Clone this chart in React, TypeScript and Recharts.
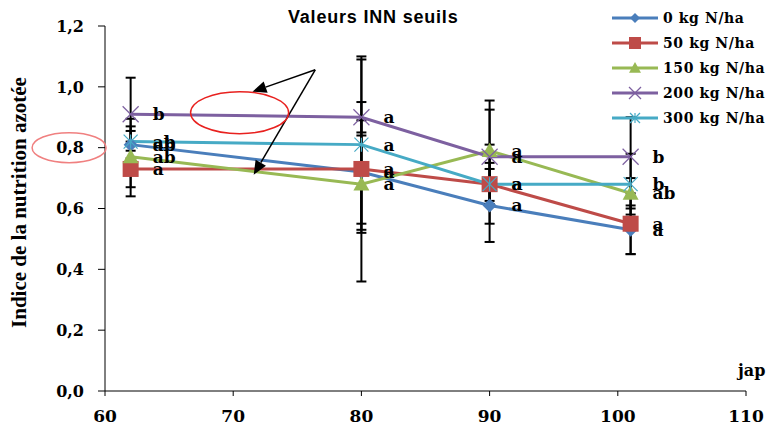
import React from "react";
import {
  ComposedChart,
  Line,
  XAxis,
  YAxis,
  ErrorBar,
  LabelList,
  ReferenceDot,
  ReferenceLine,
} from "recharts";

document.body.style.margin = "0";

const jap = [62, 80, 90, 101];
const inn0 = [0.81, 0.72, 0.61, 0.53];
const inn50 = [0.73, 0.73, 0.68, 0.55];
const inn150 = [0.77, 0.68, 0.79, 0.65];
const inn200 = [0.91, 0.9, 0.77, 0.77];
const inn300 = [0.82, 0.81, 0.68, 0.68];
const err0 = [0.045, 0.17, 0.12, 0.08];
const err50 = [0.09, 0.37, 0.13, 0.1];
const err150 = [0.1, 0.16, 0.165, 0.05];
const err200 = [0.12, 0.05, 0.155, 0.13];
const err300 = [0.075, 0.28, 0.07, 0.1];
const lbl0 = ["ab", "a", "a", "a"];
const lbl50 = ["a", "a", "a", "a"];
const lbl150 = ["ab", "a", "a", "ab"];
const lbl200 = ["b", "a", "a", "b"];
const lbl300 = ["ab", "a", "a", "b"];
const xTicks = [60, 70, 80, 90, 100, 110];
const yTicks = [0, 0.2, 0.4, 0.6, 0.8, 1.0, 1.2];

const data = jap.map((x, i) => ({
  x,
  s0: inn0[i], e0: err0[i], l0: lbl0[i],
  s50: inn50[i], e50: err50[i], l50: lbl50[i],
  s150: inn150[i], e150: err150[i], l150: lbl150[i],
  s200: inn200[i], e200: err200[i], l200: lbl200[i],
  s300: inn300[i], e300: err300[i], l300: lbl300[i],
}));

const serif = "'DejaVu Serif', serif";

type Kind = "diamond" | "square" | "triangle" | "x" | "star";

function Marker({ kind, cx, cy, color, s }: { kind: Kind; cx: number; cy: number; color: string; s: number }) {
  if (kind === "diamond")
    return <polygon points={`${cx},${cy - s} ${cx + s},${cy} ${cx},${cy + s} ${cx - s},${cy}`} fill={color} />;
  if (kind === "square") return <rect x={cx - s} y={cy - s} width={2 * s} height={2 * s} fill={color} />;
  if (kind === "triangle")
    return <polygon points={`${cx},${cy - s} ${cx + s},${cy + s * 0.8} ${cx - s},${cy + s * 0.8}`} fill={color} />;
  if (kind === "x")
    return (
      <g stroke={color} strokeWidth={1.2}>
        <line x1={cx - s} y1={cy - s} x2={cx + s} y2={cy + s} />
        <line x1={cx - s} y1={cy + s} x2={cx + s} y2={cy - s} />
      </g>
    );
  return (
    <g stroke={color} strokeWidth={1.2}>
      <line x1={cx - s} y1={cy - s} x2={cx + s} y2={cy + s} />
      <line x1={cx - s} y1={cy + s} x2={cx + s} y2={cy - s} />
      <line x1={cx} y1={cy - s} x2={cx} y2={cy + s} />
    </g>
  );
}

const series = [
  { key: "s0", err: "e0", lbl: "l0", name: "0 kg N/ha", color: "#4A7EBB", kind: "diamond" as Kind, size: 7 },
  { key: "s50", err: "e50", lbl: "l50", name: "50 kg N/ha", color: "#BE4B48", kind: "square" as Kind, size: 8 },
  { key: "s150", err: "e150", lbl: "l150", name: "150 kg N/ha", color: "#98B954", kind: "triangle" as Kind, size: 8 },
  { key: "s200", err: "e200", lbl: "l200", name: "200 kg N/ha", color: "#7D60A0", kind: "x" as Kind, size: 8 },
  { key: "s300", err: "e300", lbl: "l300", name: "300 kg N/ha", color: "#46AAC5", kind: "star" as Kind, size: 7 },
];

const letterLabel = (props: any) => {
  const { x, y, value } = props;
  return (
    <text x={x + 22} y={y + 6} fontFamily={serif} fontWeight="bold" fontSize={17} fill="#000">
      {value}
    </text>
  );
};

const Arrow = (props: any) => {
  const { x1, y1, x2, y2 } = props;
  const a = Math.atan2(y2 - y1, x2 - x1);
  const L = 14;
  const W = 6;
  const bx = x2 - L * Math.cos(a);
  const by = y2 - L * Math.sin(a);
  const px = -Math.sin(a) * W;
  const py = Math.cos(a) * W;
  return (
    <g>
      <line x1={x1} y1={y1} x2={bx} y2={by} stroke="#000" strokeWidth={1.5} />
      <polygon points={`${x2},${y2} ${bx + px},${by + py} ${bx - px},${by - py}`} fill="#000" />
    </g>
  );
};

function ChartLegend() {
  return (
    <svg width={165} height={135} style={{ position: "absolute", left: 606, top: 0 }}>
      {series.map((s, i) => {
        const y = 18 + i * 25;
        return (
          <g key={s.key}>
            <line x1={6} y1={y} x2={52} y2={y} stroke={s.color} strokeWidth={3} />
            <Marker kind={s.kind} cx={29} cy={y} color={s.color} s={s.size - 2} />
            <text x={57} y={y + 5} fontFamily={serif} fontWeight="bold" fontSize={14} letterSpacing={0.6} fill="#000">
              {s.name}
            </text>
          </g>
        );
      })}
    </svg>
  );
}

export default function App() {
  return (
    <div style={{ position: "relative", width: 771, height: 431, background: "#fff" }}>
      <ComposedChart width={771} height={431} data={data} margin={{ top: 26, right: 25, bottom: 0, left: 0 }}>
        <XAxis
          dataKey="x"
          type="number"
          domain={[60, 110]}
          ticks={xTicks}
          stroke="#000"
          tickSize={5}
          tickMargin={14}
          height={40}
          tick={{ fontFamily: serif, fontWeight: "bold", fontSize: 17, fill: "#000" }}
        />
        <YAxis
          type="number"
          domain={[0, 1.2]}
          ticks={yTicks}
          width={105}
          stroke="#000"
          tickSize={7}
          tickMargin={14}
          tickFormatter={(v: number) => v.toFixed(1).replace(".", ",")}
          tick={{ fontFamily: serif, fontWeight: "bold", fontSize: 16, fill: "#000" }}
          label={{
            value: "Indice de la nutrition azotée",
            angle: -90,
            position: "insideLeft",
            offset: 19,
            dy: -6,
            style: {
              fontFamily: "'Liberation Serif', serif",
              fontWeight: "bold",
              fontSize: 21,
              fill: "#000",
              textAnchor: "middle",
            },
          }}
        />
        {series.map((s) => (
          <Line
            key={s.key}
            dataKey={s.key}
            type="linear"
            stroke={s.color}
            strokeWidth={3}
            isAnimationActive={false}
            dot={(p: any) => (
              <Marker key={`${s.key}-${p.index}`} kind={s.kind} cx={p.cx} cy={p.cy} color={s.color} s={s.size} />
            )}
            activeDot={false}
          >
            <ErrorBar dataKey={s.err} direction="y" width={5} stroke="#000" strokeWidth={2} />
            <LabelList dataKey={s.lbl} content={letterLabel} />
          </Line>
        ))}
        <ReferenceDot
          x={70.5}
          y={0.915}
          ifOverflow="visible"
          shape={(p: any) => <ellipse cx={p.cx} cy={p.cy} rx={49} ry={21} fill="none" stroke="#E8211F" strokeWidth={1.5} />}
        />
        <ReferenceDot
          x={57.2}
          y={0.8}
          ifOverflow="visible"
          shape={(p: any) => <ellipse cx={p.cx} cy={p.cy} rx={37} ry={15} fill="none" stroke="#F08080" strokeWidth={1.5} />}
        />
        <ReferenceLine
          segment={[{ x: 76.4, y: 1.056 }, { x: 71.5, y: 0.984 }]}
          ifOverflow="visible"
          shape={Arrow}
        />
        <ReferenceLine
          segment={[{ x: 76.4, y: 1.056 }, { x: 71.6, y: 0.711 }]}
          ifOverflow="visible"
          shape={Arrow}
        />
      </ComposedChart>
      <div
        style={{
          position: "absolute",
          left: 288,
          top: 7,
          fontFamily: "'Liberation Sans', sans-serif",
          fontWeight: "bold",
          fontSize: 18,
          letterSpacing: 0.8,
          color: "#000",
        }}
      >
        Valeurs INN seuils
      </div>
      <div
        style={{
          position: "absolute",
          left: 738,
          top: 361,
          fontFamily: serif,
          fontWeight: "bold",
          fontSize: 16,
          color: "#000",
        }}
      >
        jap
      </div>
      <ChartLegend />
    </div>
  );
}
